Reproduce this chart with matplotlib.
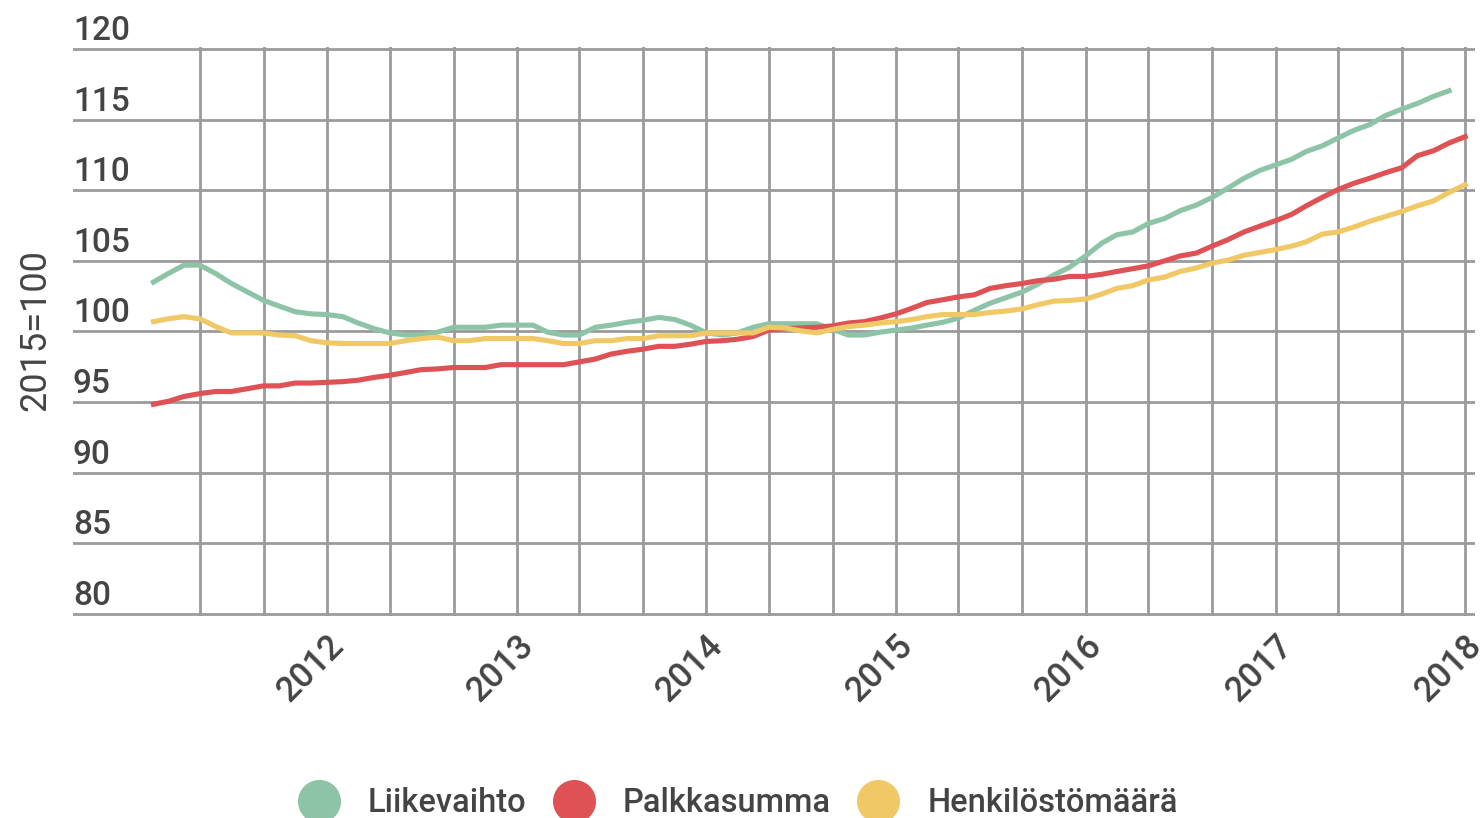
import numpy as np
import pandas as pd
import matplotlib
matplotlib.use("Agg")
import matplotlib.pyplot as plt
import matplotlib.dates as mdates
import matplotlib.transforms as mtransforms
from matplotlib.lines import Line2D

plt.rcParams['font.family'] = ['Roboto', 'DejaVu Sans']

# monthly index, Feb 2011 .. Jan 2018
months = pd.date_range('2011-02-01', '2018-01-01', freq='MS')

liikevaihto = [
    103.5, 104.1, 104.7, 104.7, 104.1, 103.4, 102.8, 102.2, 101.8, 101.4, 101.25,
    101.2, 101.05, 100.6, 100.2, 99.9, 99.75, 99.75, 99.95, 100.3, 100.3, 100.3, 100.45,
    100.45, 100.45, 99.95, 99.75, 99.75, 100.3, 100.45, 100.65, 100.8, 101.0, 100.85, 100.45,
    99.9, 99.75, 99.9, 100.3, 100.55, 100.55, 100.55, 100.55, 100.15, 99.75, 99.75, 99.95,
    100.1, 100.25, 100.45, 100.65, 100.95, 101.5, 102.0, 102.4, 102.8, 103.35, 104.0, 104.55,
    105.35, 106.25, 106.85, 107.05, 107.65, 108.0, 108.55, 108.95, 109.5, 110.15, 110.85, 111.4,
    111.8, 112.2, 112.75, 113.15, 113.7, 114.25, 114.65, 115.3, 115.75, 116.15, 116.65, 117.05,
]
palkkasumma = [
    94.85, 95.05, 95.4, 95.6, 95.75, 95.75, 95.95, 96.15, 96.15, 96.35, 96.35,
    96.4, 96.45, 96.55, 96.75, 96.9, 97.1, 97.3, 97.35, 97.45, 97.45, 97.45, 97.65,
    97.65, 97.65, 97.65, 97.65, 97.85, 98.05, 98.4, 98.6, 98.75, 98.95, 98.95, 99.1,
    99.3, 99.35, 99.45, 99.65, 100.1, 100.2, 100.25, 100.3, 100.4, 100.6, 100.7, 100.95,
    101.25, 101.65, 102.05, 102.25, 102.45, 102.6, 103.05, 103.25, 103.4, 103.6, 103.7, 103.9,
    103.9, 104.05, 104.25, 104.45, 104.65, 105.0, 105.35, 105.55, 106.05, 106.5, 107.05, 107.45,
    107.85, 108.3, 108.9, 109.5, 110.05, 110.5, 110.85, 111.25, 111.6, 112.45, 112.8, 113.35,
    113.8,
]
henkilostomaara = [
    100.7, 100.9, 101.05, 100.9, 100.35, 99.9, 99.9, 99.9, 99.75, 99.7, 99.35,
    99.2, 99.15, 99.15, 99.15, 99.15, 99.35, 99.5, 99.6, 99.35, 99.35, 99.5, 99.5,
    99.5, 99.5, 99.35, 99.15, 99.15, 99.35, 99.35, 99.5, 99.5, 99.7, 99.7, 99.7,
    99.9, 99.9, 99.9, 99.9, 100.3, 100.25, 100.05, 99.9, 100.15, 100.35, 100.45, 100.6,
    100.7, 100.85, 101.05, 101.2, 101.2, 101.2, 101.35, 101.45, 101.6, 101.9, 102.15, 102.2,
    102.3, 102.65, 103.05, 103.25, 103.65, 103.85, 104.25, 104.5, 104.85, 105.05, 105.4, 105.6,
    105.8, 106.05, 106.35, 106.9, 107.05, 107.4, 107.8, 108.15, 108.5, 108.9, 109.25, 109.85,
    110.4,
]

series_names = ['Liikevaihto', 'Palkkasumma', 'Henkilöstömäärä']
series_values = [liikevaihto, palkkasumma, henkilostomaara]
colors = ['#8dc4a7', '#de5154', '#f0c966']

year_ticks = pd.date_range('2012-01-01', '2018-01-01', freq='YS')
minor_ticks = [d for d in pd.date_range('2011-05-01', '2017-12-01', freq='MS') if d.month in (5, 9)]
y_ticks = list(range(80, 121, 5))

text_color = '#444444'
grid_color = '#9a9a9a'

fig = plt.figure(figsize=(14.8, 8.18), dpi=100)
W, H = 1480, 818
ax = fig.add_axes([73 / W, (818 - 616) / H, 1402 / W, 569 / H])

for name, vals, c in zip(series_names, series_values, colors):
    ax.plot(months[:len(vals)], vals, color=c, lw=3.7, label=name, zorder=3)

ax.set_ylim(79.85, 120.15)
ax.set_xlim(pd.Timestamp('2010-08-30'), pd.Timestamp('2018-01-20'))

ax.set_xticks(year_ticks)
ax.set_xticks(minor_ticks, minor=True)
ax.xaxis.set_major_formatter(mdates.DateFormatter('%Y'))
ax.set_yticks(y_ticks)
ax.set_yticklabels([])

ax.grid(True, which='both', axis='x', color=grid_color, lw=2.0)
ax.grid(True, which='major', axis='y', color=grid_color, lw=2.0)
ax.tick_params(which='both', length=0)
ax.tick_params(axis='x', pad=9, labelsize=25, labelcolor=text_color)
for s in ax.spines.values():
    s.set_visible(False)

for lab in ax.get_xticklabels():
    lab.set_rotation(45)
    lab.set_rotation_mode('anchor')
    lab.set_ha('right')
    lab.set_va('top')
    lab.set_fontweight('medium')

# y tick labels sit above the gridlines, left aligned
ytrans = mtransforms.blended_transform_factory(ax.transAxes, ax.transData)
ytrans = ytrans + mtransforms.ScaledTranslation(0, 9 / 100, fig.dpi_scale_trans)
for v in y_ticks:
    ax.text(0, v, str(v), transform=ytrans, ha='left', va='baseline',
            fontsize=24, fontweight='medium', color=text_color)

ax.set_ylabel('2015=100', fontsize=26, color=text_color, va='center')
ax.yaxis.set_label_coords(-0.027, 0.503)

handles = [Line2D([], [], ls='', marker='o', ms=30, color=c) for c in colors]
leg = fig.legend(handles, series_names, loc='center', bbox_to_anchor=(0.498, 15 / H),
                 ncol=3, frameon=False, handlelength=1.4,
                 handletextpad=0.8, columnspacing=0.75, borderpad=0,
                 prop={'size': 23.5, 'weight': 'medium'})
for t in leg.get_texts():
    t.set_color(text_color)

fig.savefig('out.png', dpi=100)
